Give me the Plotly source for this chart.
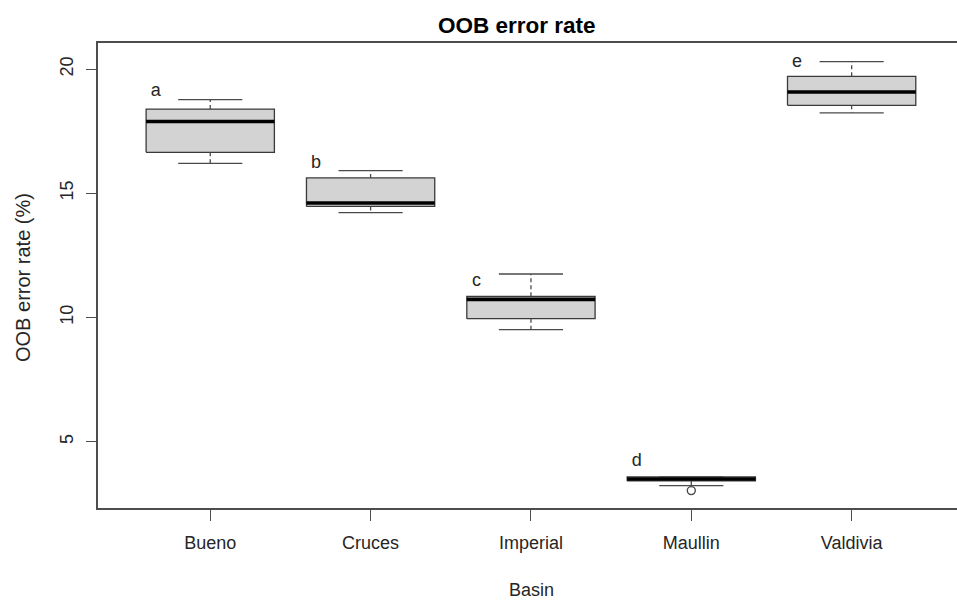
import plotly.graph_objects as go

# ---- data ----
basins = ["Bueno", "Cruces", "Imperial", "Maullin", "Valdivia"]
lower_whisker = [16.20, 14.22, 9.51, 3.23, 18.24]
q1 = [16.65, 14.47, 9.95, 3.42, 18.54]
median = [17.89, 14.61, 10.73, 3.50, 19.08]
q3 = [18.39, 15.62, 10.85, 3.58, 19.71]
upper_whisker = [18.77, 15.91, 11.75, 3.58, 20.30]
outlier_basin = ["Maullin"]
outlier_values = [3.03]
group_letters = ["a", "b", "c", "d", "e"]
letter_values = [19.10, 16.20, 11.45, 4.20, 20.27]
y_ticks = [5, 10, 15, 20]

# ---- styling / geometry ----
W, H = 957, 601
L, R, T, B = 98, 0, 43, 93
FONT = "Liberation Sans, Arial, sans-serif"
BOX_HALF = 0.4
STAPLE_HALF = 0.2
BORDER = "#3a3a3a"
WHISK = "#4a4a4a"
AXIS = "#4d4d4d"
TEXT = "#262626"

fig = go.Figure()
for i, name in enumerate(basins):
    x = i + 1
    # box body
    fig.add_trace(go.Scatter(
        x=[x - BOX_HALF, x + BOX_HALF, x + BOX_HALF, x - BOX_HALF, x - BOX_HALF],
        y=[q1[i], q1[i], q3[i], q3[i], q1[i]],
        mode="lines", fill="toself", fillcolor="#d3d3d3",
        line=dict(color=BORDER, width=1.3), hoverinfo="skip", showlegend=False))
    # whiskers (dashed)
    fig.add_trace(go.Scatter(
        x=[x, x, None, x, x],
        y=[q3[i], upper_whisker[i], None, q1[i], lower_whisker[i]],
        mode="lines", line=dict(color=WHISK, width=1.3, dash="4px,3px"),
        hoverinfo="skip", showlegend=False))
    # staples
    fig.add_trace(go.Scatter(
        x=[x - STAPLE_HALF, x + STAPLE_HALF, None, x - STAPLE_HALF, x + STAPLE_HALF],
        y=[upper_whisker[i], upper_whisker[i], None, lower_whisker[i], lower_whisker[i]],
        mode="lines", line=dict(color=WHISK, width=1.3),
        hoverinfo="skip", showlegend=False))
    # median
    fig.add_trace(go.Scatter(
        x=[x - BOX_HALF, x + BOX_HALF], y=[median[i], median[i]],
        mode="lines", line=dict(color="black", width=3.6),
        hoverinfo="skip", showlegend=False))

# outliers
fig.add_trace(go.Scatter(
    x=[basins.index(b) + 1 for b in outlier_basin], y=outlier_values,
    mode="markers",
    marker=dict(symbol="circle-open", size=8, color=WHISK, line=dict(width=1.4)),
    hoverinfo="skip", showlegend=False))

# group letters
fig.add_trace(go.Scatter(
    x=[i + 1 - 0.34 for i in range(len(basins))], y=letter_values,
    mode="text", text=group_letters,
    textfont=dict(family=FONT, size=18, color=TEXT),
    hoverinfo="skip", showlegend=False))

def px_x(px):
    return (px - L) / (W - L - R)

def px_y(py):
    return (H - B - py) / (H - T - B)

fig.update_layout(
    width=W, height=H,
    margin=dict(l=L, r=R, t=T, b=B),
    paper_bgcolor="white", plot_bgcolor="white",
    font=dict(family=FONT, size=18, color=TEXT),
    xaxis=dict(range=[0.3, 5.657], tickvals=[1, 2, 3, 4, 5], ticktext=basins,
               showgrid=False, zeroline=False, showline=True, mirror=True,
               linecolor=AXIS, linewidth=1.5, ticks="outside", ticklen=11,
               tickcolor=AXIS, tickwidth=1.3, ticklabelstandoff=7,
               tickfont=dict(family=FONT, size=18, color=TEXT)),
    yaxis=dict(range=[2.33, 21.05], tickvals=y_ticks,
               showgrid=False, zeroline=False, showline=True, mirror=False,
               linecolor=AXIS, linewidth=1.5, ticks="outside", ticklen=10,
               tickcolor=AXIS, tickwidth=1.3, tickangle=-90, ticklabelstandoff=6,
               tickfont=dict(family=FONT, size=18, color=TEXT)),
    annotations=[
        dict(text="<b>OOB error rate</b>", xref="paper", yref="paper",
             x=px_x(517), y=px_y(26), xanchor="center", yanchor="middle",
             showarrow=False, font=dict(family=FONT, size=22.5, color="black")),
        dict(text="Basin", xref="paper", yref="paper",
             x=px_x(531), y=px_y(590), xanchor="center", yanchor="middle",
             showarrow=False, font=dict(family=FONT, size=18, color=TEXT)),
        dict(text="OOB error rate (%)", xref="paper", yref="paper",
             x=px_x(23), y=px_y(278), xanchor="center", yanchor="middle",
             textangle=-90, showarrow=False,
             font=dict(family=FONT, size=20, color=TEXT)),
    ],
)

fig.write_html("out.html", config={"displayModeBar": False},
               post_script="document.body.style.margin='0px';document.body.style.overflow='hidden';")
